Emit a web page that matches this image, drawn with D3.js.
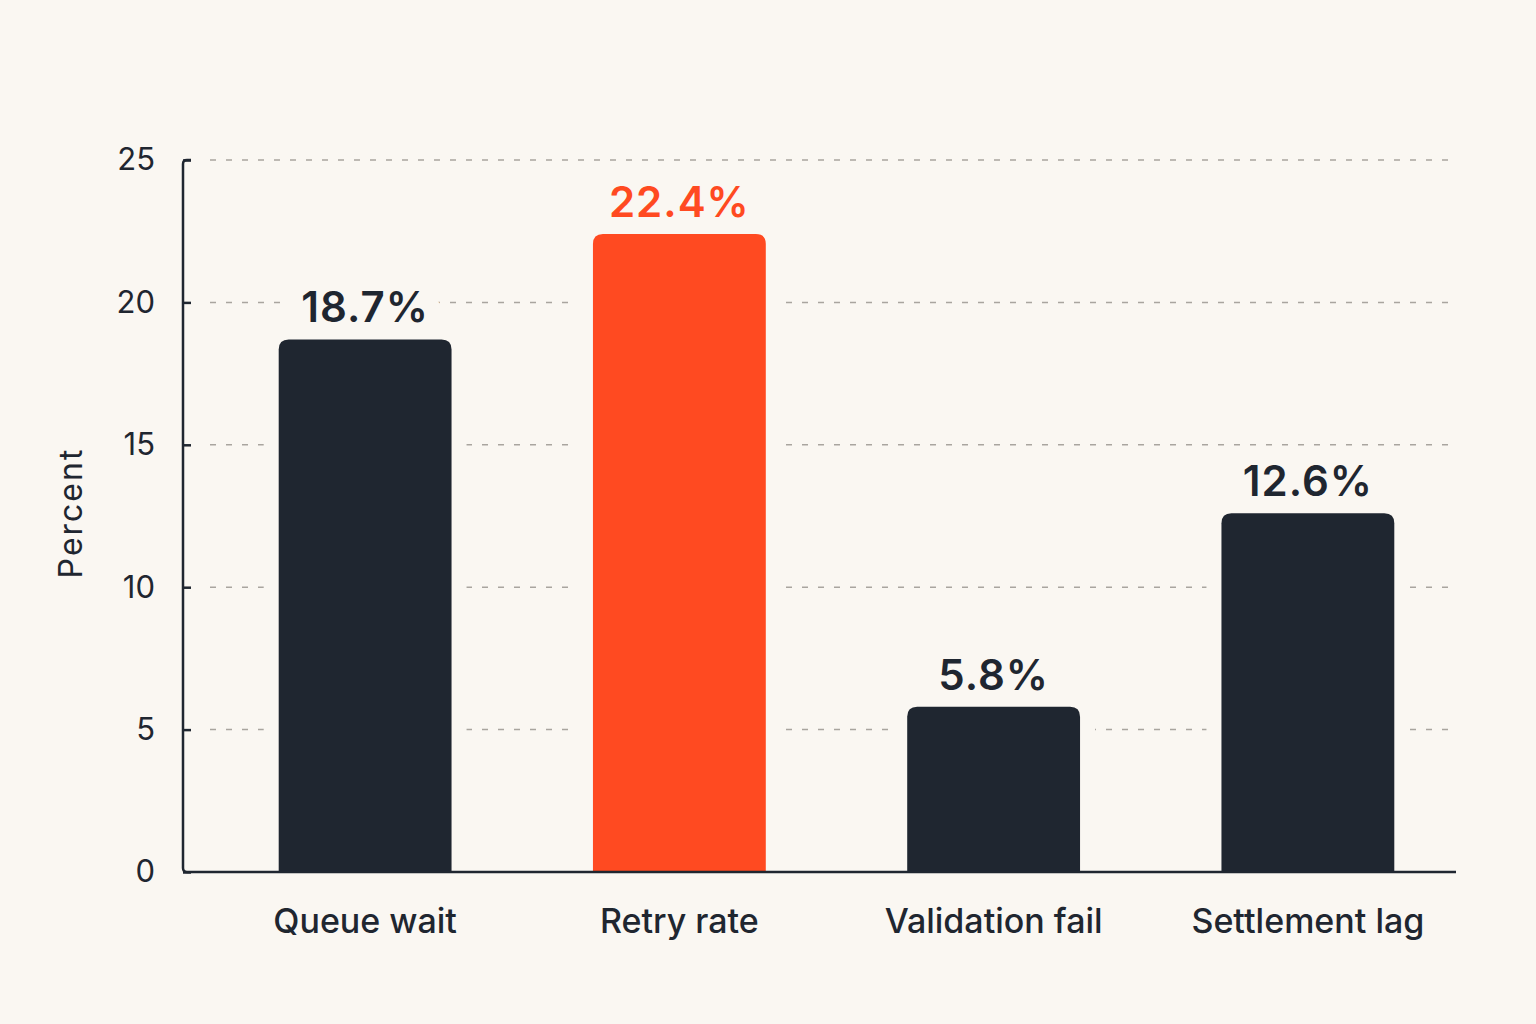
<!DOCTYPE html>
<html><head><meta charset="utf-8">
<script src="https://cdn.jsdelivr.net/npm/d3@7"></script>
<style>
html,body{margin:0;padding:0;background:#faf7f2;}
svg{display:block;font-family:Inter,"Noto Sans",sans-serif;}
</style></head>
<body>
<svg id="chart" width="1536" height="1024"></svg>
<script>
const categories = ["Queue wait", "Retry rate", "Validation fail", "Settlement lag"];
const values = [18.7, 22.4, 5.8, 12.6];
const highlight = [false, true, false, false];
const yTicks = [0, 5, 10, 15, 20, 25];

const W = 1536, H = 1024;
const bg = "#faf7f2", dark = "#1f2630", orange = "#ff4a21", grid = "#a9a59f";
const svg = d3.select("#chart");
svg.append("rect").attr("width", W).attr("height", H).attr("fill", bg);

const axisX0 = 183, axisX1 = 1456, y0 = 872, y1 = 160;
const x = d3.scaleBand().domain(categories).range([208, 1465]).paddingInner(0.45).paddingOuter(0.225);
const y = d3.scaleLinear().domain([0, 25]).range([y0, y1]);

// gridlines
svg.append("g").selectAll("line").data(yTicks.filter(d => d > 0)).join("line")
  .attr("x1", 210).attr("x2", axisX1)
  .attr("y1", d => y(d)).attr("y2", d => y(d))
  .attr("stroke", grid).attr("stroke-width", 1.5).attr("stroke-dasharray", "6 10");

const data = categories.map((c, i) => ({c, v: values[i], h: highlight[i]}));
const fmt = d => d.v.toFixed(1) + "%";
const cx = d => x(d.c) + x.bandwidth() / 2;
const ly = d => y(d.v) - 17;

// halo behind bars to interrupt gridlines
svg.append("g").selectAll("rect").data(data).join("rect")
  .attr("x", d => x(d.c) - 15).attr("width", x.bandwidth() + 30)
  .attr("y", d => y(d.v) - 4).attr("height", d => y0 - y(d.v) + 4)
  .attr("fill", bg);

// label halos (behind bars)
svg.append("g").selectAll("text").data(data).join("text")
  .attr("x", cx).attr("y", ly)
  .attr("text-anchor", "middle").attr("font-size", 42).attr("font-weight", 600)
  .attr("letter-spacing", 1)
  .attr("stroke", bg).attr("stroke-width", 36).attr("stroke-linejoin", "round")
  .attr("fill", bg).text(fmt);

const r = 10;
function barPath(d) {
  const bx = x(d.c), bw = x.bandwidth(), top = y(d.v);
  return `M${bx},${y0}V${top + r}Q${bx},${top} ${bx + r},${top}H${bx + bw - r}Q${bx + bw},${top} ${bx + bw},${top + r}V${y0}Z`;
}
svg.append("g").selectAll("path").data(data).join("path")
  .attr("d", barPath).attr("fill", d => d.h ? orange : dark);

// value labels
svg.append("g").selectAll("text").data(data).join("text")
  .attr("x", cx).attr("y", ly)
  .attr("text-anchor", "middle").attr("font-size", 42).attr("font-weight", 600)
  .attr("letter-spacing", 1)
  .attr("fill", d => d.h ? orange : dark).text(fmt);

// axes
const yAxis = d3.axisLeft(y).tickValues(yTicks).tickSize(-8).tickPadding(28).tickFormat(d3.format("d"));
const gy = svg.append("g").attr("transform", `translate(${axisX0},0)`).call(yAxis);
gy.select(".domain").remove();
gy.selectAll(".tick line").attr("stroke", dark).attr("stroke-width", 2.5);
gy.selectAll(".tick text").attr("font-size", 31).attr("fill", dark).attr("font-family", "Inter, sans-serif");

svg.append("path")
  .attr("d", `M${axisX0 + 8},${y1}H${axisX0 + 4}Q${axisX0},${y1} ${axisX0},${y1 + 4}V${y0 - 4}Q${axisX0},${y0} ${axisX0 + 4},${y0}H${axisX1}`)
  .attr("fill", "none").attr("stroke", dark).attr("stroke-width", 2.5);

// x labels
svg.append("g").selectAll("text").data(categories).join("text")
  .attr("x", d => x(d) + x.bandwidth() / 2).attr("y", 933)
  .attr("text-anchor", "middle").attr("font-size", 34).attr("font-weight", 500)
  .attr("fill", dark).text(d => d);

// y axis title
svg.append("text").attr("transform", "translate(82,513) rotate(-90)")
  .attr("text-anchor", "middle").attr("font-size", 32).attr("letter-spacing", 2)
  .attr("fill", dark).text("Percent");
</script>
</body></html>
